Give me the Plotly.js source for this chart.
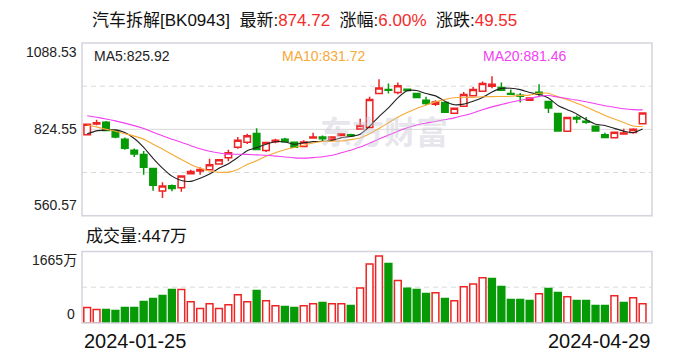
<!DOCTYPE html>
<html><head><meta charset="utf-8">
<script src="https://cdn.plot.ly/plotly-3.0.1.min.js"></script>
<style>html,body{margin:0;padding:0;background:#fff;}#chart{width:688px;height:360px;}</style>
</head><body><div id="chart"></div>
<script>
const dates = ['2024-01-25','2024-01-26','2024-01-29','2024-01-30','2024-01-31',
 '2024-02-01','2024-02-02','2024-02-05','2024-02-06','2024-02-07','2024-02-08',
 '2024-02-19','2024-02-20','2024-02-21','2024-02-22','2024-02-23','2024-02-26','2024-02-27','2024-02-28','2024-02-29',
 '2024-03-01','2024-03-04','2024-03-05','2024-03-06','2024-03-07','2024-03-08','2024-03-11','2024-03-12','2024-03-13','2024-03-14','2024-03-15',
 '2024-03-18','2024-03-19','2024-03-20','2024-03-21','2024-03-22','2024-03-25','2024-03-26','2024-03-27','2024-03-28','2024-03-29',
 '2024-04-01','2024-04-02','2024-04-03','2024-04-08','2024-04-09','2024-04-10','2024-04-11','2024-04-12',
 '2024-04-15','2024-04-16','2024-04-17','2024-04-18','2024-04-19','2024-04-22','2024-04-23','2024-04-24','2024-04-25','2024-04-26','2024-04-29'];
const open  = [808,841,846,821,794,761,748,705,636,652,646,688.5,697,701,719,738,770,785,812,760,
 787,794,785,772,798,801,793,806,808,825.5,830,934,946,937,947,934,913.6,901,907,873.7,
 895,927,941,956.5,952.5,934,929,913.6,938,909.6,872.7,818.4,860.5,849,833.8,808.3,799,810,815,842];
const high  = [841,854,850,823,800,766,758,706,663,656,683,701,709,735,732,762,801,811,828,784,
 796,799,786,791,814,806,802,812,811,857,924,978,965,968,949,935,924,913.6,908,890,
 939,954,971,987,968,946,936,921,962.7,911,873,861,866.6,862,835,814.4,817,826.7,828,876];
const low   = [806,837,820,797,762,740,686,637,615,635,634,688,686,699,716,727,765,780,762,755,
 782,786,769,771,797,789,792,805,803,825,829,932,934,932,942,921,898,896,875,872,
 894,926,940,950,942,930,906.5,911.4,923.7,874.6,818,817,843,842,818,800,798,809,811,840];
const close = [840,845,821,801,767,749,709,654,651.5,644,682,695.6,702,716,731.5,753,791,805,763,784,
 791,787,770,785.6,801,796,801,811,805,836,915.7,951,944,957.5,943,922,903.4,908.4,876.7,889,
 931,946.4,964.8,962.7,944.3,932,925.8,920.6,932.9,890,819.3,860.5,856.2,846,819.3,800,816,813.7,825.17,874.72];
// 成交量 (万)
const volume = [360,314,314,291,360,360,500,569,639,778,778,492,337,446,337,423,655,492,755,516,
 400,384,360,400,446,476,446,446,407,817,1375,1561,1382,987,809,778,685,701,569,516,
 841,910,1050,1034,848,546,546,523,678,801,709,609,523,523,407,407,632,476,585,447];
// estimated closes of the 19 sessions before 2024-01-25
const priorCloses = [935,925,918,905,900,889,880,862,858,868,905,896,860,842,822,800,810,797,808];
const priceTicks = [1088.53, 824.55, 560.57];
const priceTickLabels = ['1088.53','824.55','560.57'];
const priceGrid = [956.54, 692.56];
const volTicks = [1665, 0];
const volTickLabels = ['1665万','0'];
const maPeriods = [5, 10, 20];
const maLabels = ['MA5:825.92','MA10:831.72','MA20:881.46'];
const titleName = '汽车拆解[BK0943]';
const titleLast = '874.72';
const titlePct = '6.00%';
const titleChg = '49.55';
const volLabel = '成交量:447万';

const RED = '#ee2424', GREEN = '#079a07';
const MA_COLORS = ['#222222', '#f7a835', '#f240f2'];
const FONT = 'Liberation Sans, Arial, Noto Sans CJK SC, sans-serif';

const all = priorCloses.concat(close);
function ma(n) {
  return close.map((_, i) => {
    const j = i + priorCloses.length;
    let s = 0;
    for (let k = j - n + 1; k <= j; k++) s += all[k];
    return s / n;
  });
}
const prevClose = close.map((c, i) => i === 0 ? priorCloses[priorCloses.length - 1] : close[i - 1]);
const volUp = close.map((c, i) => c >= prevClose[i]);

const traces = [];
traces.push({
  type: 'candlestick', x: dates, open: open, high: high, low: low, close: close,
  xaxis: 'x', yaxis: 'y', hoverinfo: 'skip', whiskerwidth: 0,
  increasing: {line: {color: RED, width: 1.5}, fillcolor: '#ffffff'},
  decreasing: {line: {color: GREEN, width: 1.5}, fillcolor: GREEN}
});
maPeriods.forEach((n, k) => {
  traces.push({type: 'scatter', mode: 'lines', x: dates, y: ma(n), xaxis: 'x', yaxis: 'y',
    line: {color: MA_COLORS[k], width: 1.1, shape: 'spline', smoothing: 0.6}, hoverinfo: 'skip'});
});
traces.push({
  type: 'bar', x: dates, y: volume, xaxis: 'x2', yaxis: 'y2', width: 0.72, hoverinfo: 'skip',
  marker: {color: volUp.map(u => u ? '#ffffff' : GREEN),
           line: {color: volUp.map(u => u ? RED : GREEN), width: 1.5}}
});

const PY0 = 0.3832, VY1 = 0.2556;
const shapes = [];
priceGrid.forEach(v => shapes.push({type: 'line', xref: 'paper', yref: 'y', x0: 0, x1: 1, y0: v, y1: v,
  line: {color: '#d9d9d9', width: 1, dash: '5px,4px'}, layer: 'below'}));
shapes.push({type: 'line', xref: 'paper', yref: 'y', x0: 0, x1: 1, y0: priceTicks[1], y1: priceTicks[1],
  line: {color: '#d9d9d9', width: 1}, layer: 'below'});
shapes.push({type: 'line', xref: 'paper', yref: 'y2', x0: 0, x1: 1, y0: volTicks[0] / 2, y1: volTicks[0] / 2,
  line: {color: '#d9d9d9', width: 1, dash: '5px,4px'}, layer: 'below'});
shapes.push({type: 'rect', xref: 'paper', yref: 'paper', x0: 0, x1: 1, y0: PY0, y1: 1,
  line: {color: '#d4d4dc', width: 1.5}});
shapes.push({type: 'rect', xref: 'paper', yref: 'paper', x0: 0, x1: 1, y0: 0, y1: VY1,
  line: {color: '#d4d4dc', width: 1.5}});

const ann = [];
const txt = (o) => Object.assign({showarrow: false, font: {family: FONT, size: 14, color: '#222'}}, o);
ann.push(txt({xref: 'paper', yref: 'y', x: 0, y: priceTicks[0], xanchor: 'right', yanchor: 'top', xshift: -3, yshift: 1, text: priceTickLabels[0]}));
ann.push(txt({xref: 'paper', yref: 'y', x: 0, y: priceTicks[1], xanchor: 'right', yanchor: 'middle', xshift: -3, text: priceTickLabels[1]}));
ann.push(txt({xref: 'paper', yref: 'y', x: 0, y: priceTicks[2], xanchor: 'right', yanchor: 'bottom', xshift: -3, yshift: 1, text: priceTickLabels[2]}));
ann.push(txt({xref: 'paper', yref: 'y2', x: 0, y: volTicks[0], xanchor: 'right', yanchor: 'top', xshift: -3, yshift: 1, text: volTickLabels[0]}));
ann.push(txt({xref: 'paper', yref: 'y2', x: 0, y: volTicks[1], xanchor: 'right', yanchor: 'bottom', xshift: -5, yshift: -1, text: volTickLabels[1]}));
const maX = [0.0175, 0.347, 0.700];
maLabels.forEach((t, k) => ann.push(txt({xref: 'paper', yref: 'paper', x: maX[k], y: 0.9537, xanchor: 'left', yanchor: 'middle',
  text: t, font: {family: FONT, size: 14, color: MA_COLORS[k]}})));
const sp = '\u00a0\u00a0';
const red = (s) => '<span style="color:#f42a2a">' + s + '</span>';
ann.push(txt({xref: 'paper', yref: 'paper', x: 0.014, y: 1.082, xanchor: 'left', yanchor: 'middle',
  text: titleName + sp + '最新:' + red(titleLast) + sp + '涨幅:' + red(titlePct) + sp + '涨跌:' + red(titleChg),
  font: {family: FONT, size: 17, color: '#111'}}));
ann.push(txt({xref: 'paper', yref: 'paper', x: 0.003, y: 0.3084, xanchor: 'left', yanchor: 'middle', text: volLabel,
  font: {family: FONT, size: 17, color: '#111'}}));
ann.push(txt({xref: 'paper', yref: 'paper', x: 0, y: -0.064, xanchor: 'left', yanchor: 'middle', text: dates[0],
  font: {family: FONT, size: 20, color: '#111'}}));
ann.push(txt({xref: 'paper', yref: 'paper', x: 1, y: -0.064, xanchor: 'right', yanchor: 'middle', text: dates[dates.length - 1],
  font: {family: FONT, size: 20, color: '#111'}}));
ann.push(txt({xref: 'paper', yref: 'paper', x: 0.53, y: 0.69, xanchor: 'center', yanchor: 'middle', text: '东方财富',
  font: {family: 'Noto Sans CJK SC, sans-serif', size: 32, color: 'rgba(200,200,212,0.45)', weight: 700}}));

const axBase = {showgrid: false, zeroline: false, showticklabels: false, ticks: '', showline: false, fixedrange: true};
const layout = {
  width: 688, height: 360,
  margin: {l: 82, r: 36, t: 43, b: 36.5, pad: 0},
  paper_bgcolor: '#ffffff', plot_bgcolor: '#ffffff',
  showlegend: false, boxgap: 0.31, boxgroupgap: 0, bargap: 0.2,
  xaxis: Object.assign({}, axBase, {type: 'category', range: [-0.55, 60], anchor: 'y', rangeslider: {visible: false}}),
  yaxis: Object.assign({}, axBase, {domain: [PY0, 1], range: [priceTicks[2], priceTicks[0]], anchor: 'x'}),
  xaxis2: Object.assign({}, axBase, {type: 'category', range: [-0.55, 60], anchor: 'y2'}),
  yaxis2: Object.assign({}, axBase, {domain: [0, VY1], range: [0, volTicks[0]], anchor: 'x2'}),
  shapes: shapes, annotations: ann
};
Plotly.newPlot('chart', traces, layout, {displayModeBar: false, staticPlot: true});
</script></body></html>
